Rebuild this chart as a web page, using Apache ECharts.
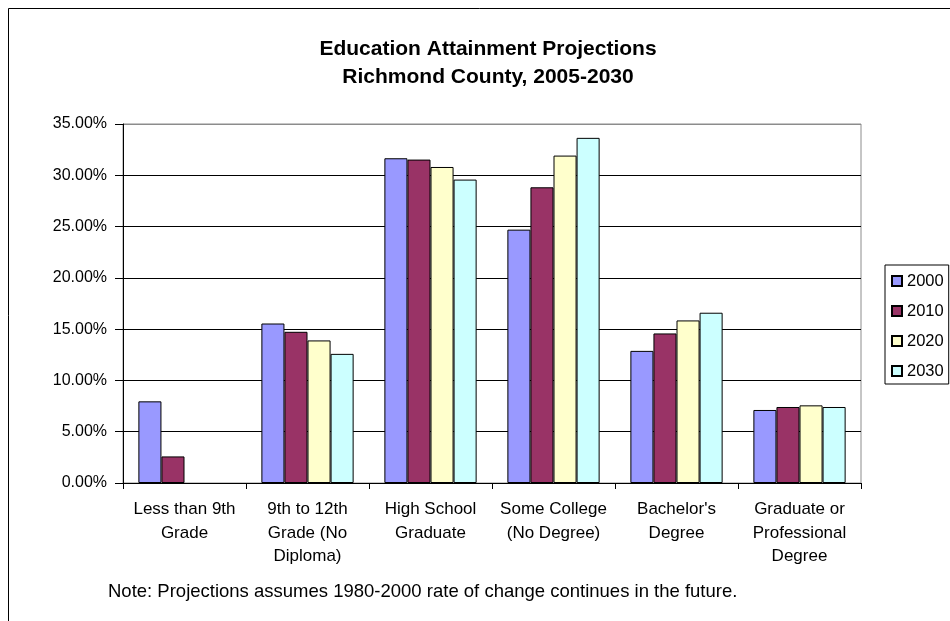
<!DOCTYPE html>
<html>
<head>
<meta charset="utf-8">
<script src="https://cdn.jsdelivr.net/npm/echarts@6/dist/echarts.min.js"></script>
<style>html,body{margin:0;padding:0;background:#fff;}#c{width:950px;height:621px;}</style>
</head>
<body>
<div id="c"></div>
<script>
const categories = ["Less than 9th\nGrade", "9th to 12th\nGrade (No\nDiploma)", "High School\nGraduate", "Some College\n(No Degree)", "Bachelor's\nDegree", "Graduate or\nProfessional\nDegree"];
const seriesNames = ["2000", "2010", "2020", "2030"];
const v2000 = [0.0796, 0.1555, 0.3166, 0.2470, 0.1288, 0.0712];
const v2010 = [0.0259, 0.1474, 0.3153, 0.2883, 0.1458, 0.0741];
const v2020 = [null, 0.1390, 0.3081, 0.3192, 0.1585, 0.0757];
const v2030 = [null, 0.1259, 0.2958, 0.3365, 0.1660, 0.0741];
const colors = ["#9999FF", "#993366", "#FFFFCC", "#CCFFFF"];
const yTicks = [0, 0.05, 0.10, 0.15, 0.20, 0.25, 0.30, 0.35];
const titleText = "Education Attainment Projections\nRichmond County, 2005-2030";
const noteText = "Note: Projections assumes 1980-2000 rate of change continues in the future.";

const FONT = "Liberation Sans, Arial, sans-serif";
const chart = echarts.init(document.getElementById('c'), null, {renderer: 'canvas'});
const allVals = [v2000, v2010, v2020, v2030];
chart.setOption({
  animation: false,
  backgroundColor: '#fff',
  textStyle: {fontFamily: FONT},
  title: {
    text: titleText,
    left: 483, top: 30, textAlign: 'center',
    textStyle: {fontFamily: FONT, fontSize: 21, fontWeight: 'bold', color: '#000', lineHeight: 28}
  },
  legend: {
    orient: 'vertical',
    left: 885, top: 265,
    itemWidth: 10, itemHeight: 10, itemGap: 12,
    padding: [7, 5, 4, 6],
    borderColor: '#000', borderWidth: 1,
    textStyle: {fontFamily: FONT, fontSize: 16.5, color: '#000', lineHeight: 18, padding: [0,0,0,0]},
    data: seriesNames.map(n => ({name: n, icon: 'rect'}))
  },
  grid: {
    left: 123, right: 89, top: 124, bottom: 138,
    show: true, borderColor: '#8c8c8c', borderWidth: 1, backgroundColor: 'transparent'
  },
  xAxis: {
    type: 'category',
    data: categories,
    axisLine: {lineStyle: {color: '#000', width: 1}},
    axisTick: {show: true, length: 6, lineStyle: {color: '#000'}},
    axisLabel: {interval: 0, color: '#000', fontFamily: FONT, fontSize: 17, lineHeight: 23.5, margin: 15}
  },
  yAxis: {
    type: 'value',
    min: 0, max: 0.35, interval: 0.05,
    axisLine: {show: true, lineStyle: {color: '#000', width: 1}},
    axisTick: {show: true, length: 8, lineStyle: {color: '#000'}},
    axisLabel: {color: '#000', fontFamily: FONT, fontSize: 16, margin: 16,
      formatter: v => (v * 100).toFixed(2) + '%'},
    splitLine: {show: true, lineStyle: {color: ['#000','#000','#000','#000','#000','#000','#000','#8c8c8c'], width: 1}}
  },
  series: seriesNames.map((n, i) => ({
    name: n, type: 'bar',
    data: allVals[i],
    barGap: '0%', barCategoryGap: '25%',
    itemStyle: {color: colors[i], borderColor: '#000', borderWidth: 1}
  })),
  graphic: [
    {type: 'rect', shape: {x: 8.5, y: 8.5, width: 960, height: 640}, style: {fill: 'none', stroke: '#000', lineWidth: 1}, silent: true, z: -1},
    {type: 'text', left: 108, top: 582, style: {text: noteText, font: '18.5px Liberation Sans, Arial, sans-serif', fill: '#000'}}
  ]
});
</script>
</body>
</html>
